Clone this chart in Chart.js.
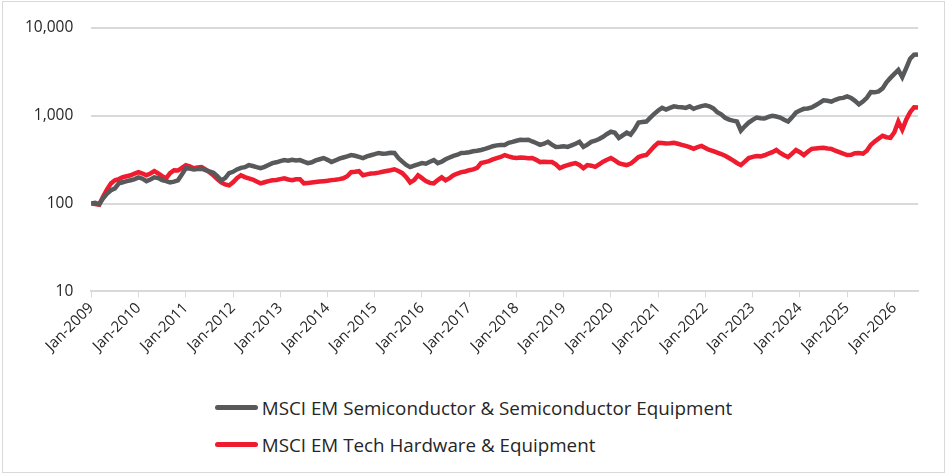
<!DOCTYPE html>
<html>
<head>
<meta charset="utf-8">
<script src="https://cdn.jsdelivr.net/npm/chart.js@4.4.1/dist/chart.umd.min.js"></script>
<style>
  html, body { margin: 0; padding: 0; background: #fff; }
  #wrap { position: relative; width: 947px; height: 474px; font-family: "Open Sans", sans-serif; }
  #frame { position: absolute; left: 2px; top: 1px; width: 941px; height: 470px; border: 1px solid #d9d9d9; pointer-events: none; }
  #chartBox { position: absolute; left: 0; top: 0; width: 947px; height: 357px; }
  #legend { position: absolute; left: 0; top: 389px; width: 947px; text-align: center; }
  #legend .inner { display: inline-block; text-align: left; }
  #legend .item { display: flex; align-items: center; height: 37px; font-size: 18.8px; color: #262626; }
  #legend .mark { width: 43px; height: 5px; border-radius: 2.5px; margin-right: 4px; }
</style>
</head>
<body>
<div id="wrap">
  <div id="chartBox"><canvas id="chart"></canvas></div>
  <div id="legend"><div class="inner"></div></div>
  <div id="frame"></div>
</div>
<script>
// monthly, Jan-2009 .. Jul-2026, rebased to 100
const startYear = 2009;
const semiValues = [
  100, 102, 98, 115, 130, 142, 149, 170, 175, 180, 184, 190,
  199, 192, 180, 188, 199, 195, 185, 180, 174, 178, 184, 215,
  253, 250, 245, 248, 250, 240, 232, 225, 205, 184, 195, 222,
  230, 245, 255, 260, 274, 268, 260, 253, 262, 275, 289, 295,
  305, 313, 308, 315, 310, 313, 300, 289, 295, 310, 320, 330,
  315, 297, 310, 325, 335, 345, 357, 350, 340, 330, 345, 355,
  365, 377, 370, 372, 380, 377, 330, 300, 275, 260, 270, 280,
  289, 285, 300, 313, 289, 300, 320, 335, 350, 360, 377, 380,
  385, 395, 400, 408, 420, 435, 450, 460, 466, 466, 493, 505,
  520, 533, 530, 533, 510, 490, 466, 480, 505, 470, 442, 445,
  450, 442, 460, 480, 505, 442, 470, 505, 520, 545, 577, 620,
  658, 640, 560, 600, 642, 610, 700, 837, 850, 860, 954, 1050,
  1150, 1230, 1180, 1230, 1280, 1260, 1250, 1230, 1280, 1200, 1250, 1290,
  1315, 1280, 1213, 1100, 1038, 950, 904, 880, 860, 677, 760, 837,
  900, 954, 940, 930, 970, 1000, 980, 954, 900, 860, 960, 1090,
  1150, 1200, 1210, 1246, 1320, 1400, 1500, 1480, 1450, 1520, 1580, 1600,
  1666, 1600, 1480, 1350, 1450, 1600, 1860, 1850, 1900, 2050, 2410, 2700,
  3000, 3330, 2760, 3500, 4470, 4960, 5000
];
const hardwareValues = [
  100, 99, 97, 120, 145, 170, 184, 190, 200, 205, 210, 220,
  228, 220, 210, 220, 234, 220, 205, 194, 222, 240, 238, 255,
  274, 265, 253, 258, 260, 245, 228, 210, 190, 174, 165, 161,
  175, 195, 210, 200, 194, 188, 178, 170, 175, 180, 184, 186,
  190, 194, 188, 185, 189, 189, 170, 172, 174, 176, 178, 180,
  182, 185, 187, 190, 194, 205, 228, 230, 234, 210, 215, 220,
  222, 225, 230, 235, 240, 246, 235, 222, 200, 174, 185, 210,
  195, 180, 172, 170, 185, 199, 184, 195, 210, 220, 228, 232,
  240, 245, 255, 289, 297, 305, 318, 330, 340, 357, 345, 335,
  330, 335, 332, 328, 330, 315, 297, 300, 298, 297, 280, 253,
  265, 274, 282, 289, 275, 253, 274, 270, 262, 280, 300, 315,
  330, 310, 289, 280, 274, 285, 310, 339, 350, 357, 400, 450,
  493, 490, 485, 488, 493, 480, 466, 455, 440, 420, 440, 454,
  430, 408, 395, 380, 367, 350, 330, 310, 290, 274, 300, 330,
  340, 348, 345, 355, 370, 385, 408, 377, 355, 339, 370, 408,
  385, 357, 390, 420, 425, 430, 432, 425, 420, 400, 385, 370,
  357, 360, 375, 377, 370, 400, 466, 510, 550, 592, 570, 560,
  650, 860, 694, 900, 1100, 1246, 1240
];
const yTicks = [10, 100, 1000, 10000];
const monthNames = ['Jan','Feb','Mar','Apr','May','Jun','Jul','Aug','Sep','Oct','Nov','Dec'];

const labels = semiValues.map((_, i) => monthNames[i % 12] + '-' + (startYear + Math.floor(i / 12)));

const series = [
  { label: 'MSCI EM Semiconductor & Semiconductor Equipment', data: semiValues, color: '#58595b' },
  { label: 'MSCI EM Tech Hardware & Equipment', data: hardwareValues, color: '#ee1c2e' }
];

const chart = new Chart(document.getElementById('chart'), {
  type: 'line',
  data: {
    labels: labels,
    datasets: series.map(s => ({
      label: s.label,
      data: s.data,
      borderColor: s.color,
      backgroundColor: s.color,
      borderWidth: 4.5,
      pointRadius: 0,
      tension: 0,
      fill: false
    }))
  },
  options: {
    responsive: true,
    maintainAspectRatio: false,
    animation: false,
    layout: { padding: { top: 28, right: 29, left: 7, bottom: 0 } },
    plugins: { legend: { display: false }, tooltip: { enabled: false } },
    scales: {
      x: {
        offset: false,
        grid: { display: true, drawOnChartArea: false, drawTicks: true, tickLength: 6, color: '#d9d9d9' },
        border: { display: true, color: '#d9d9d9', width: 2 },
        afterBuildTicks: sc => { sc.ticks = sc.ticks.filter(t => t.value % 12 === 0); },
        ticks: {
          autoSkip: false, maxRotation: 45, minRotation: 45, padding: 2,
          color: '#262626', font: { family: 'Open Sans', size: 15 }
        }
      },
      y: {
        type: 'logarithmic',
        min: 10, max: 10000,
        grid: { color: '#d9d9d9', lineWidth: 2, drawTicks: false },
        border: { display: false },
        afterBuildTicks: sc => { sc.ticks = yTicks.map(v => ({ value: v })); },
        ticks: {
          padding: 18, color: '#262626', font: { family: 'Open Sans', size: 15.5 },
          callback: v => v.toLocaleString('en-US')
        }
      }
    }
  }
});

const inner = document.querySelector('#legend .inner');
series.forEach(s => {
  const row = document.createElement('div');
  row.className = 'item';
  row.innerHTML = '<span class="mark" style="background:' + s.color + '"></span><span>' + s.label + '</span>';
  inner.appendChild(row);
});
</script>
</body>
</html>
